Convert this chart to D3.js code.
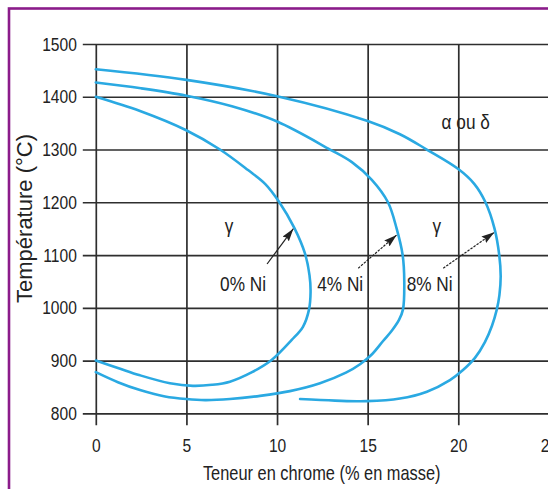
<!DOCTYPE html>
<html>
<head>
<meta charset="utf-8">
<script src="https://cdn.jsdelivr.net/npm/d3@7"></script>
<style>
  body { margin: 0; background: #fff; }
  svg { display: block; }
</style>
</head>
<body>
<script>
// Axis ticks
const chromeTicks = [0, 5, 10, 15, 20, 25];
const tempTicks = [800, 900, 1000, 1100, 1200, 1300, 1400, 1500];

// Limits of the gamma loop for each nickel content (Cr %, temperature °C)
const seriesNames = ["0% Ni", "4% Ni", "8% Ni"];

const cr0Ni   = [0, 2.44, 4.96, 6.85, 8.40, 9.34, 10.11, 10.96, 11.54, 11.79, 11.85, 11.76, 11.43, 10.81, 9.70, 8.62, 7.40, 6.41, 5.36, 4.09, 2.44, 1.22, 0];
const temp0Ni = [1400, 1373, 1337, 1300, 1261, 1235, 1201, 1151, 1103, 1062, 1030, 996, 964, 939, 901, 878, 860, 854, 852, 857, 872, 886, 900];

const cr4Ni   = [0, 2.49, 5, 7.51, 10, 12.92, 14.13, 15.24, 16.12, 16.6, 16.93, 17.02, 16.95, 16.73, 16.34, 15.85, 15.24, 14.58, 13.80, 12.37, 10.71, 9.06, 7.40, 6.03, 5.0, 3.82, 2.44, 1.22, 0];
const temp4Ni = [1427, 1416, 1402, 1382, 1353, 1300, 1276, 1242, 1200, 1150, 1100, 1050, 997, 977, 957, 937, 912, 893, 877, 857, 842, 833, 827, 825, 827, 832, 844, 859, 878];

const cr8Ni   = [0, 5, 10, 15, 16.78, 18.26, 20, 20.88, 21.50, 22.0, 22.26, 22.34, 22.27, 22.12, 21.86, 21.47, 20.92, 20.26, 19.54, 18.27, 16.78, 14.96, 13.2, 11.27];
const temp8Ni = [1452, 1432, 1401, 1354, 1329, 1300, 1263, 1235, 1200, 1150, 1100, 1060, 1024, 996, 966, 935, 905, 882, 863, 841, 828, 823, 824, 827];

// Arrows from each label to its curve: tail and head as (Cr %, T °C)
const arrowTail = [[9.45, 1083], [14.48, 1075], [19.17, 1075]];
const arrowHead = [[10.9, 1150], [16.6, 1138], [21.99, 1143]];
const arrowDashed = [false, true, true];

// Label anchors (Cr %, T °C)
const seriesLabelPos = [[9.39, 1031], [12.22, 1031], [17.15, 1031]];
const seriesLabelAnchor = ["end", "start", "start"];
const phaseLabels = ["\u03b3", "\u03b3", "\u03b1 ou \u03b4"];
const phaseLabelPos = [[7.35, 1142], [18.82, 1142], [19.08, 1339]];
const phaseLabelAnchor = ["middle", "middle", "start"];

const W = 548, H = 489;
const font = "'Liberation Sans', Arial, Helvetica, sans-serif";
const condense = 0.82;          // horizontal squeeze for the condensed lettering
const inkColor = "#222";
const gridColor = "#2e2e2e";
const curveColor = "#2aa9e2";

// Squeeze a text horizontally around its own anchor point
function condensed(sel) {
  sel.each(function () {
    const t = d3.select(this);
    const tx = +t.attr("x") || 0;
    const ty = +t.attr("y") || 0;
    t.attr("x", 0).attr("y", 0)
     .attr("transform", `translate(${tx},${ty}) scale(${condense},1)`);
  });
}

const svg = d3.select("body").append("svg")
  .attr("width", W).attr("height", H);

svg.append("rect").attr("width", W).attr("height", H).attr("fill", "#fff");

// Frame
svg.append("rect")
  .attr("x", 9).attr("y", 8.5)
  .attr("width", W + 20).attr("height", H + 20)
  .attr("fill", "none")
  .attr("stroke", "#8b1c8a")
  .attr("stroke-width", 2.6);

const x = d3.scaleLinear().domain([0, 25]).range([95.8, 548.9]);
const y = d3.scaleLinear().domain([800, 1500]).range([413.3, 44]);

// Y axis with full-width grid lines
const yAxis = d3.axisLeft(y)
  .tickValues(tempTicks)
  .tickSize(-(x(25) - x(0)))
  .tickSizeOuter(0)
  .tickPadding(19)
  .tickFormat(d3.format("d"));

const gy = svg.append("g").attr("transform", `translate(${x(0)},0)`).call(yAxis);
gy.select(".domain").remove();
gy.selectAll(".tick line")
  .attr("x1", -13)
  .attr("stroke", gridColor)
  .attr("stroke-width", 1.7);
gy.selectAll(".tick text")
  .attr("fill", inkColor)
  .style("font-family", font)
  .style("font-size", "19px")
  .call(condensed);

// X axis with full-height grid lines
const xAxis = d3.axisBottom(x)
  .tickValues(chromeTicks)
  .tickSize(-(y(800) - y(1500)))
  .tickSizeOuter(0)
  .tickPadding(25)
  .tickFormat(d3.format("d"));

const gx = svg.append("g").attr("transform", `translate(0,${y(800)})`).call(xAxis);
gx.select(".domain").remove();
gx.selectAll(".tick line")
  .attr("y1", 12)
  .attr("stroke", gridColor)
  .attr("stroke-width", 1.7);
gx.selectAll(".tick text")
  .attr("fill", inkColor)
  .style("font-family", font)
  .style("font-size", "19px")
  .call(condensed);

// Axis titles
svg.append("text")
  .attr("transform", `translate(32,218.5) rotate(-90)`)
  .attr("text-anchor", "middle")
  .attr("fill", inkColor)
  .style("font-family", font)
  .style("font-size", "22px")
  .text("Température (°C)");

svg.append("text")
  .attr("x", 321.7).attr("y", 480)
  .attr("text-anchor", "middle")
  .attr("fill", inkColor)
  .style("font-family", font)
  .style("font-size", "20px")
  .text("Teneur en chrome (% en masse)")
  .call(condensed);

// Gamma loop boundaries
const series = [
  { name: seriesNames[0], cr: cr0Ni, t: temp0Ni },
  { name: seriesNames[1], cr: cr4Ni, t: temp4Ni },
  { name: seriesNames[2], cr: cr8Ni, t: temp8Ni }
];

const line = d3.line()
  .x(d => x(d[0]))
  .y(d => y(d[1]))
  .curve(d3.curveCatmullRom.alpha(0.5));

svg.append("g").selectAll("path")
  .data(series)
  .join("path")
  .attr("d", s => line(s.cr.map((c, i) => [c, s.t[i]])))
  .attr("fill", "none")
  .attr("stroke", curveColor)
  .attr("stroke-width", 2.6)
  .attr("stroke-linecap", "round");

// Arrow heads
svg.append("defs").append("marker")
  .attr("id", "head")
  .attr("viewBox", "0 0 13 8")
  .attr("refX", 13).attr("refY", 4)
  .attr("markerWidth", 13).attr("markerHeight", 8)
  .attr("markerUnits", "userSpaceOnUse")
  .attr("orient", "auto")
  .append("path")
  .attr("d", "M0,0 L13,4 L0,8 L2,4 Z")
  .attr("fill", inkColor);

svg.append("g").selectAll("line")
  .data(seriesNames)
  .join("line")
  .attr("x1", (d, i) => x(arrowTail[i][0]))
  .attr("y1", (d, i) => y(arrowTail[i][1]))
  .attr("x2", (d, i) => x(arrowHead[i][0]))
  .attr("y2", (d, i) => y(arrowHead[i][1]))
  .attr("stroke", inkColor)
  .attr("stroke-width", 1.2)
  .attr("stroke-dasharray", (d, i) => arrowDashed[i] ? "2.5,1.2" : null)
  .attr("marker-end", "url(#head)");

// Series labels
svg.append("g").selectAll("text")
  .data(seriesNames)
  .join("text")
  .attr("x", (d, i) => x(seriesLabelPos[i][0]))
  .attr("y", (d, i) => y(seriesLabelPos[i][1]))
  .attr("text-anchor", (d, i) => seriesLabelAnchor[i])
  .attr("fill", inkColor)
  .style("font-family", font)
  .style("font-size", "21px")
  .text(d => d)
  .call(condensed);

// Phase labels
svg.append("g").selectAll("text")
  .data(phaseLabels)
  .join("text")
  .attr("x", (d, i) => x(phaseLabelPos[i][0]))
  .attr("y", (d, i) => y(phaseLabelPos[i][1]))
  .attr("text-anchor", (d, i) => phaseLabelAnchor[i])
  .attr("fill", inkColor)
  .style("font-family", font)
  .style("font-size", "21px")
  .text(d => d)
  .call(condensed);
</script>
</body>
</html>
